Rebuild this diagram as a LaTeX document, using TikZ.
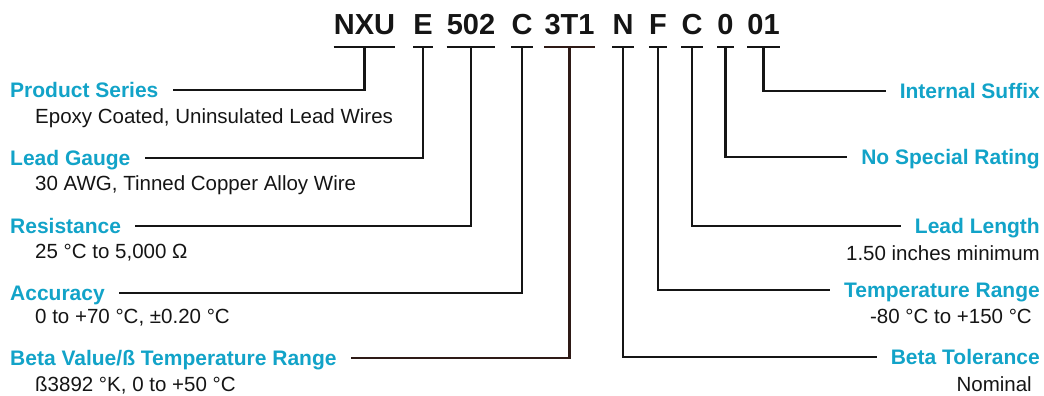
\documentclass[tikz,border=0pt]{standalone}
\usepackage{fontspec}
\setmainfont{Liberation Sans}
\usetikzlibrary{positioning}
\definecolor{tealblue}{HTML}{12A3C8}
\definecolor{ink}{HTML}{151515}
\definecolor{umber}{HTML}{2E1A16}
\tikzset{
  codepart/.style={
    font=\fontsize{29}{30}\selectfont\bfseries, color=ink,
    inner sep=0pt, text height=23pt, text depth=12pt, anchor=base
  },
  codebar/.style={line width=2.6pt, color=#1},
  codebar/.default=ink,
  leadline/.style={line width=2.6pt, color=#1, shorten >=14pt},
  leadline/.default=ink,
  itemlabel/.style={
    font=\fontsize{21}{22}\selectfont\bfseries, color=tealblue,
    inner sep=0pt, text height=14pt, text depth=0pt
  },
  itemnote/.style={
    font=\fontsize{20.5}{22}\selectfont, color=ink, inner sep=0pt
  },
}

\begin{document}
\begin{tikzpicture}[x=1pt, y=-1pt]
  \useasboundingbox (0,0) rectangle (1044,396);

  % Part number pieces
  \node[codepart] (series) at (364.5,35) {NXU};
  \node[codepart] (gauge)  at (423,35)   {E};
  \node[codepart] (res)    at (471,35)   {502};
  \node[codepart] (acc)    at (522,35)   {C};
  \node[codepart] (beta)   at (569.5,35) {3T1};
  \node[codepart] (btol)   at (623,35)   {N};
  \node[codepart] (trange) at (658,35)   {F};
  \node[codepart] (llen)   at (692,35)   {C};
  \node[codepart] (rating) at (725.5,35) {0};
  \node[codepart] (suffix) at (763.5,35) {01};

  % Left side labels
  \node[itemlabel, anchor=base west] (serieslbl) at (10,97) {Product Series};
  \node[itemnote, anchor=base west] (seriesnote) at (35,123)
    {Epoxy Coated, Uninsulated Lead Wires};
  \node[itemlabel, anchor=base west] (gaugelbl) at (10,165) {Lead Gauge};
  \node[itemnote, anchor=base west] (gaugenote) at (35,190)
    {30 AWG, Tinned Copper Alloy Wire};
  \node[itemlabel, anchor=base west] (reslbl) at (10,233) {Resistance};
  \node[itemnote, anchor=base west] (resnote) at (35,258)
    {25 °C to 5,000 Ω};
  \node[itemlabel, anchor=base west] (acclbl) at (10,300) {Accuracy};
  \node[itemnote, anchor=base west] (accnote) at (35,323)
    {0 to +70 °C, ±0.20 °C};
  \node[itemlabel, anchor=base west] (betalbl) at (10,365)
    {Beta Value/ß Temperature Range};
  \node[itemnote, anchor=base west] (betanote) at (35,391)
    {ß3892 °K, 0 to +50 °C};

  % Right side labels
  \node[itemlabel, anchor=base east] (suffixlbl) at (1040,98) {Internal Suffix};
  \node[itemlabel, anchor=base east] (ratinglbl) at (1040,164) {No Special Rating};
  \node[itemlabel, anchor=base east] (llenlbl) at (1040,233) {Lead Length};
  \node[itemnote, anchor=base east] (llennote) at (1040,260)
    {1.50 inches minimum};
  \node[itemlabel, anchor=base east] (trangelbl) at (1040,297) {Temperature Range};
  \node[itemnote, anchor=base east] (trangenote) at (1032,323)
    {-80 °C to +150 °C};
  \node[itemlabel, anchor=base east] (btollbl) at (1040,364) {Beta Tolerance};
  \node[itemnote, anchor=base east] (btolnote) at (1032,391) {Nominal};

  % Bars under the pieces
  \foreach \part in {series,gauge,res,acc,btol,trange,llen,rating,suffix}
    \draw[codebar] (\part.south west) -- (\part.south east);
  \draw[codebar=umber] (beta.south west) -- (beta.south east);

  % Leads to the labels
  \draw[leadline] (series.south) |- (serieslbl.east);
  \draw[leadline] (gauge.south) |- (gaugelbl.east);
  \draw[leadline] (res.south) |- (reslbl.east);
  \draw[leadline] (acc.south) |- (acclbl.east);
  \draw[leadline=umber] (beta.south) |- (betalbl.east);
  \draw[leadline] (btol.south) |- (btollbl.west);
  \draw[leadline] (trange.south) |- (trangelbl.west);
  \draw[leadline] (llen.south) |- (llenlbl.west);
  \draw[leadline] (rating.south) |- (ratinglbl.west);
  \draw[leadline] (suffix.south) |- (suffixlbl.west);
\end{tikzpicture}
\end{document}
